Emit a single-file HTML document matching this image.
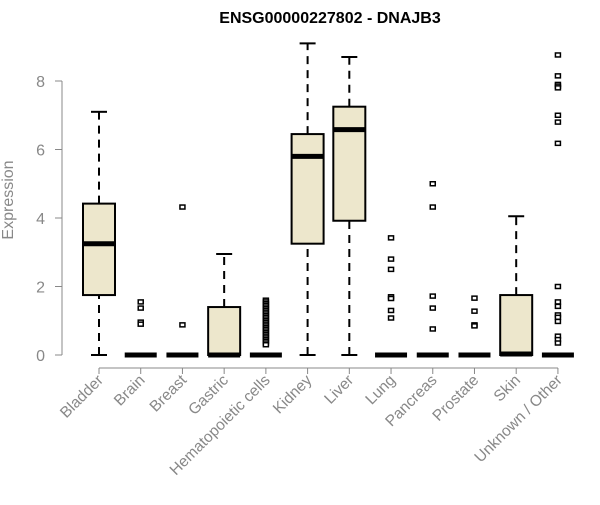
<!DOCTYPE html>
<html><head><meta charset="utf-8"><style>
body{margin:0;background:#fff}
svg{font-family:"Liberation Sans",Arial,sans-serif}
</style></head><body>
<svg id="chart" width="600" height="500" xmlns="http://www.w3.org/2000/svg">
<text x="330" y="23" text-anchor="middle" font-weight="bold" font-size="16">ENSG00000227802 - DNAJB3</text>
<text transform="translate(13,200) rotate(-90)" text-anchor="middle" font-size="16" fill="#888">Expression</text>
<g id="axes"></g><g id="plot"></g>
</svg>
<script>
const categories=["Bladder","Brain","Breast","Gastric","Hematopoietic cells","Kidney","Liver","Lung","Pancreas","Prostate","Skin","Unknown / Other"];
const mins=[0,0,0,0,0,0,0,0,0,0,0,0];
const q1s=[1.75,0,0,0,0,3.25,3.92,0,0,0,0,0];
const medians=[3.25,0,0,0,0,5.8,6.58,0,0,0,0.03,0];
const q3s=[4.42,0,0,1.4,0,6.45,7.25,0,0,0,1.75,0];
const maxs=[7.1,0,0,2.95,0,9.1,8.7,0,0,0,4.05,0];
const outliers=[[],[1.55,1.37,0.96,0.9],[4.32,0.88],[],[1.6,1.55,1.5,1.45,1.4,1.35,1.3,1.25,1.2,1.15,1.1,1.05,1.0,0.95,0.9,0.85,0.8,0.75,0.7,0.65,0.6,0.55,0.5,0.45,0.4,0.35,0.3],[],[],[3.42,2.8,2.5,1.7,1.65,1.3,1.08],[5.0,4.32,1.72,1.37,0.76],[1.66,1.28,0.88,0.85],[],[8.76,8.15,7.9,7.85,7.8,7.0,6.8,6.18,2.0,1.55,1.42,1.17,1.1,0.98,0.55,0.45,0.35]];
const yTicks=[0,2,4,6,8];
const NS="http://www.w3.org/2000/svg";
const y=v=>355-v*34.25;
const x=i=>99+i*41.72;
const ax=document.getElementById('axes'),pl=document.getElementById('plot');
function mk(t,a,p){const e=document.createElementNS(NS,t);for(const k in a)e.setAttribute(k,a[k]);p.appendChild(e);return e;}
let l=mk('line',{x1:62,x2:62,y1:y(8),y2:y(0),stroke:'#888'},ax);


yTicks.forEach(t=>{
 const tk=mk('line',{x1:55,x2:62,y1:y(t),y2:y(t),stroke:'#888'},ax);
 
 
 const tx=mk('text',{x:45,y:y(t)+6,'text-anchor':'end','font-size':16,fill:'#888'},ax);tx.textContent=t;
 
 
});
l=mk('line',{x1:x(0),x2:x(11),y1:368,y2:368,stroke:'#888'},ax);


categories.forEach((c,i)=>{
 const cx=x(i),w=16;
 const tk=mk('line',{x1:cx,x2:cx,y1:368,y2:374,stroke:'#888'},ax);
 
 
 const tx=mk('text',{transform:`translate(${cx+5},${381}) rotate(-45)`,'text-anchor':'end','font-size':15.5,fill:'#888'},ax);tx.textContent=c;
 
 
 const g=mk('g',{},pl);
 
 
 if(maxs[i]>q3s[i]){mk('line',{x1:cx,x2:cx,y1:y(q3s[i]),y2:y(maxs[i]),stroke:'#000','stroke-width':2,'stroke-dasharray':'8,6'},g);
  mk('line',{x1:cx-8,x2:cx+8,y1:y(maxs[i]),y2:y(maxs[i]),stroke:'#000','stroke-width':2},g);}
 if(q1s[i]>mins[i]){mk('line',{x1:cx,x2:cx,y1:y(mins[i]),y2:y(q1s[i]),stroke:'#000','stroke-width':2,'stroke-dasharray':'8,6'},g);
  mk('line',{x1:cx-8,x2:cx+8,y1:y(mins[i]),y2:y(mins[i]),stroke:'#000','stroke-width':2},g);}
 if(q3s[i]>q1s[i])mk('rect',{x:cx-w,y:y(q3s[i]),width:2*w,height:y(q1s[i])-y(q3s[i]),fill:'#EDE7CC',stroke:'#000','stroke-width':2},g);
 mk('line',{x1:cx-w,x2:cx+w,y1:y(medians[i]),y2:y(medians[i]),stroke:'#000','stroke-width':5},g);
 outliers[i].forEach(v=>{const r=mk('rect',{x:cx-2.5,y:y(v)-2,width:5,height:4,fill:'#fff',stroke:'#000','stroke-width':1.5},g);
  
  });
});
</script>
</body></html>
